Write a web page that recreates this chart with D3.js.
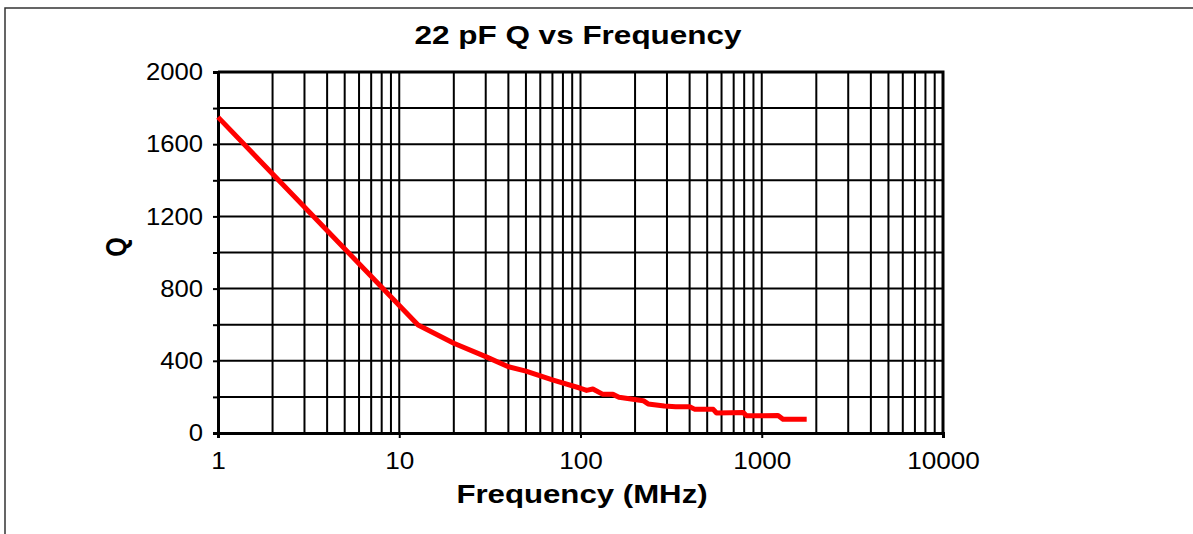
<!DOCTYPE html>
<html>
<head>
<meta charset="utf-8">
<script src="https://cdn.jsdelivr.net/npm/d3@7"></script>
<style>
  html, body { margin: 0; padding: 0; background: #fff; }
  svg { display: block; }
  text { font-family: "Liberation Sans", Arial, Helvetica, sans-serif; fill: #000; }
</style>
</head>
<body>
<svg id="chart" width="1193" height="534"></svg>
<script>
// ---- data ----
const frequencyMHz = [1, 12.7, 20, 30, 40, 50, 70, 100, 108, 117, 133, 151, 163, 222, 236, 290, 335, 400, 428, 540, 563, 790, 824, 1230, 1310, 1770];
const qValues      = [1750, 598, 497, 423, 367, 343, 294, 248, 236, 244, 214, 214, 198, 179, 161, 150, 146, 146, 131, 131, 111, 114, 95, 97, 76, 76];
const xTickLabels = [1, 10, 100, 1000, 10000];
const yTickLabels = [0, 400, 800, 1200, 1600, 2000];
const yGridValues = [0, 200, 400, 600, 800, 1000, 1200, 1400, 1600, 1800, 2000];
const titleText = "22 pF Q vs Frequency";
const xTitle = "Frequency (MHz)";
const yTitle = "Q";

// ---- layout ----
const svg = d3.select("#chart");
const pLeft = 218, pRight = 943, pTop = 72, pBottom = 433;

const x = d3.scaleLog().domain([1, 10000]).range([pLeft, pRight]);
const y = d3.scaleLinear().domain([0, 2000]).range([pBottom, pTop]);

// outer frame (top and left edges)
svg.append("path")
  .attr("d", `M5,534 L5,8 L1193,8`)
  .attr("fill", "none").attr("stroke", "#333").attr("stroke-width", 1.5);

// minor + major vertical grid
const xGrid = [];
for (let d = 1; d < 10000; d *= 10) for (let k = 1; k <= 9; k++) xGrid.push(d * k);
xGrid.push(10000);

const g = svg.append("g");
g.selectAll("line.vg").data(xGrid).join("line")
  .attr("class", "vg")
  .attr("x1", d => x(d)).attr("x2", d => x(d))
  .attr("y1", pTop).attr("y2", pBottom)
  .attr("stroke", "#000").attr("stroke-width", 2);

g.selectAll("line.hg").data(yGridValues).join("line")
  .attr("class", "hg")
  .attr("x1", pLeft).attr("x2", pRight)
  .attr("y1", d => y(d)).attr("y2", d => y(d))
  .attr("stroke", "#000").attr("stroke-width", 2);

// axes
const yAxis = d3.axisLeft(y).tickValues(yGridValues).tickSize(5).tickPadding(9)
  .tickFormat(d => yTickLabels.includes(d) ? d : "");
const ya = svg.append("g").attr("transform", `translate(${pLeft},0)`).call(yAxis);
ya.select(".domain").attr("stroke-width", 3);
ya.selectAll(".tick line").attr("stroke-width", 2);
ya.selectAll(".tick text").style("font-size", "24px").attr("font-family", null)
  .attr("transform", "scale(1.07,1)");

const xAxis = d3.axisBottom(x).tickValues(xTickLabels).tickSize(5).tickPadding(14)
  .tickFormat(d3.format("d"));
const xa = svg.append("g").attr("transform", `translate(0,${pBottom})`).call(xAxis);
xa.select(".domain").attr("stroke-width", 3);
xa.selectAll(".tick line").attr("stroke-width", 2);
xa.selectAll(".tick text").style("font-size", "24px").attr("font-family", null)
  .attr("transform", "scale(1.09,1)");

// top/right frame of plot
svg.append("path")
  .attr("d", `M${pLeft},${pTop} L${pRight},${pTop} L${pRight},${pBottom}`)
  .attr("fill", "none").attr("stroke", "#000").attr("stroke-width", 3);

// data line
const line = d3.line().x((d, i) => x(frequencyMHz[i])).y(d => y(d));
svg.append("path")
  .datum(qValues)
  .attr("d", line)
  .attr("fill", "none").attr("stroke", "#ff0000").attr("stroke-width", 5)
  .attr("stroke-linejoin", "round");

// titles
svg.append("text").attr("transform", "translate(578,44) scale(1.26,1)").attr("text-anchor", "middle")
  .style("font-size", "25px").style("font-weight", "bold").text(titleText);
svg.append("text").attr("transform", "translate(582,503) scale(1.2,1)").attr("text-anchor", "middle")
  .style("font-size", "26px").style("font-weight", "bold").text(xTitle);
svg.append("text").attr("transform", `translate(126,247) rotate(-90) scale(1,1.15)`).attr("text-anchor", "middle")
  .style("font-size", "25px").style("font-weight", "bold").text(yTitle);
</script>
</body>
</html>
